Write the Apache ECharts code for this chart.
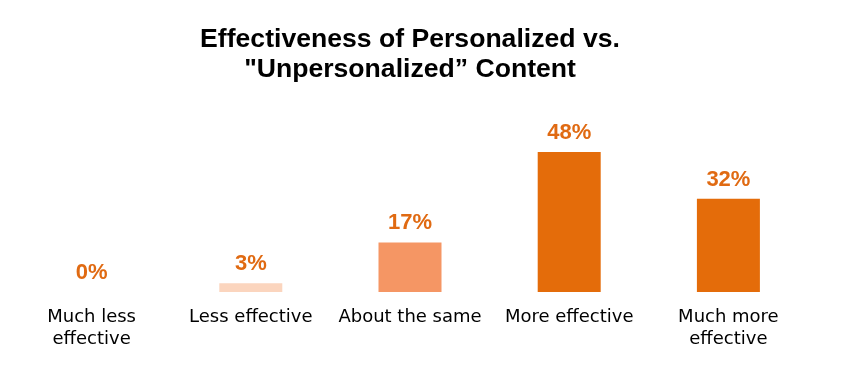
<!DOCTYPE html>
<html>
<head>
<meta charset="utf-8">
<script src="https://cdn.jsdelivr.net/npm/echarts@6/dist/echarts.min.js"></script>
<style>html,body{margin:0;padding:0;background:#fff}#c{width:855px;height:389px}</style>
</head>
<body>
<div id="c"></div>
<script>
const categories = ['Much less\neffective', 'Less effective', 'About the same', 'More effective', 'Much more\neffective'];
const values = [0, 3, 17, 48, 32];
const barColors = ['#FBD5BE', '#FBD5BE', '#F59664', '#E46C0A', '#E46C0A'];

const chart = echarts.init(document.getElementById('c'));
chart.setOption({
  animation: false,
  backgroundColor: '#fff',
  title: {
    text: 'Effectiveness of Personalized vs.\n"Unpersonalized\u201D Content',
    left: 405,
    top: 20,
    textAlign: 'center',
    textStyle: {
      fontFamily: '"Liberation Sans", Arial, sans-serif',
      fontWeight: 'bold',
      fontSize: 26.6,
      lineHeight: 30,
      color: '#000'
    }
  },
  grid: { left: 12, right: 47, top: 117, bottom: 97, containLabel: false },
  xAxis: {
    type: 'category',
    data: categories,
    axisLine: { show: false },
    axisTick: { show: false },
    axisLabel: {
      interval: 0,
      margin: 14,
      fontFamily: '"DejaVu Sans"',
      fontSize: 18,
      lineHeight: 22,
      color: '#000'
    }
  },
  yAxis: {
    type: 'value',
    min: 0,
    max: 60,
    show: false,
    splitLine: { show: false }
  },
  series: [{
    type: 'bar',
    barWidth: 63,
    data: values.map((v, i) => ({ value: v, itemStyle: { color: barColors[i] } })),
    label: {
      show: true,
      position: 'top',
      distance: 8,
      formatter: '{c}%',
      fontFamily: '"Liberation Sans", Arial, sans-serif',
      fontWeight: 'bold',
      fontSize: 22,
      color: '#E06A12'
    }
  }]
});
</script>
</body>
</html>
